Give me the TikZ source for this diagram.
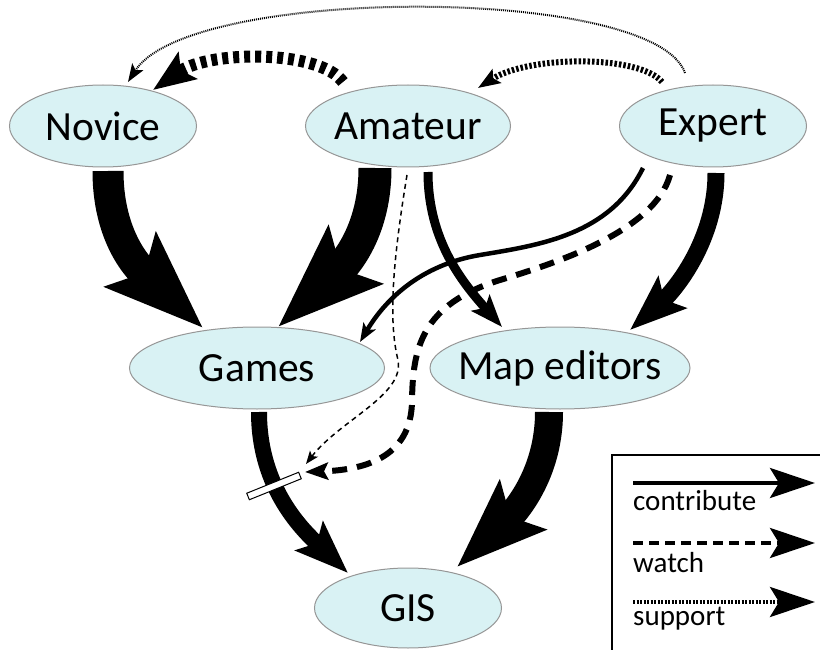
\documentclass[tikz,border=0pt]{standalone}
\usepackage{fontspec}
\setmainfont{Carlito}
\usetikzlibrary{arrows.meta,calc,shapes.geometric}
\definecolor{ecyan}{RGB}{217,242,244}
\definecolor{egray}{RGB}{150,150,150}
\begin{document}
\begin{tikzpicture}[x=1pt,y=-1pt,
  ent/.style={ellipse, draw=egray, line width=1pt, fill=ecyan, inner xsep=-25pt, inner ysep=0pt,
    minimum height=82pt, font=\fontsize{41.5}{48}\selectfont},
  tip/.style={-{Stealth[length=5pt 3, width=4pt 2.2, inset=2pt 0.5]}},
  contrib/.style={tip, line width=#1},
  legtxt/.style={anchor=base west, inner sep=0pt, font=\fontsize{29}{34}\selectfont},
  legarrow/.style={line width=4pt, -{Stealth[length=45pt, width=30pt, inset=9pt]}}]
\useasboundingbox (0,0) rectangle (820,650);

% nodes
\node[ent, minimum width=187pt] (nov) at (103,126) {Novice};
\node[ent, minimum width=205pt] (ama) at (408,126) {Amateur};
\node[ent, minimum width=187pt] (exp) at (713,126) {Expert};
\node[ent, minimum width=255pt] (gam) at (257,368) {Games};
\node[ent, minimum width=260pt] (map) at (560,368) {Map editors};
\node[ent, minimum width=187pt, minimum height=80pt] (gis) at (408,608) {GIS};

% contribute arrows
\draw[contrib=31pt] ($(nov)+(5,45)$) .. controls +(0,79) and +(-51,-48) .. ($(gam)+(-54,-40)$);
\draw[contrib=33pt] ($(ama)+(-33,42)$) .. controls +(0,72) and +(58,-54) .. ($(gam)+(21,-41)$);
\draw[contrib=9pt] ($(ama)+(20,46)$) .. controls +(0,68) and +(-40,-45) .. ($(map)+(-58,-41)$);
\draw[contrib=17pt] ($(exp)+(3,47)$) .. controls +(0,67) and +(45,-40) .. ($(map)+(70,-38)$);
\draw[contrib=4.5pt] ($(exp)+(-70,42)$) .. controls +(-33,67) and (540,245) .. (480,255)
   .. controls (420,265) and +(25,-42) .. ($(gam)+(103,-26)$);
\draw[contrib=16pt] ($(gam)+(2,44)$) .. controls +(0,78) and +(-43,-41) .. ($(gis)+(-60,-35)$);
\draw[contrib=28pt] ($(map)+(-11,44)$) .. controls +(0,68) and +(51,-48) .. ($(gis)+(49,-41)$);

% blocked bar
\node[draw=black, line width=1pt, fill=white, minimum width=56pt, minimum height=7pt, inner sep=0pt, rotate=22] (bar) at (274,486) {};
\coordinate (blkA) at (305,472);
\coordinate (blkB) at (306,464);

% watch arrows
\draw[line width=6pt, dash pattern=on 15pt off 10pt, -{Stealth[length=23pt, width=17pt, inset=4pt]}]
  ($(exp)+(-43,49)$) .. controls (655,230) and (560,262) .. (500,280)
  .. controls (420,305) and (413,350) .. (412,400)
  .. controls (412,460) and (360,470) .. (blkA);
\draw[line width=1.5pt, dash pattern=on 5pt off 4pt, -{Stealth[length=13pt, width=10pt, inset=3pt]}]
  ($(ama)+(-1,49)$) .. controls (393,260) and (388,320) .. (398,360)
  .. controls (405,395) and (340,420) .. (blkB);

% support arrows
\draw[line width=12pt, dash pattern=on 6pt off 5pt, -{Stealth[length=42pt, width=32pt, inset=8pt]}]
  ($(ama)+(-65,-44)$) .. controls +(-23,-32) and +(57,-40) .. ($(nov)+(50,-36)$);
\draw[line width=6pt, dash pattern=on 2.5pt off 2pt, -{Stealth[length=22pt, width=16pt, inset=4pt]}]
  ($(exp)+(-51,-44)$) .. controls +(-22,-27) and +(52,-33) .. ($(ama)+(70,-38)$);
\draw[line width=2pt, dash pattern=on 1pt off 1pt, -{Stealth[length=18pt, width=13pt, inset=4pt]}]
  ($(exp)+(-28,-53)$) .. controls +(-30,-88) and +(62,-97) .. ($(nov)+(25,-44)$);

% legend
\draw[line width=2pt] (612,670) -- (612,455) -- (840,455);
\coordinate (la1) at (633,483); \coordinate (lb1) at (815,483);
\coordinate (la2) at (633,543); \coordinate (lb2) at (815,543);
\coordinate (la3) at (633,602); \coordinate (lb3) at (815,602);
\draw[legarrow] (la1) -- (lb1);
\draw[legarrow, dash pattern=on 10pt off 6pt] (la2) -- (lb2);
\draw[legarrow, dash pattern=on 2pt off 1.5pt] (la3) -- (lb3);
\node[legtxt] (lt1) at (633,510) {contribute};
\node[legtxt] (lt2) at (633,572) {watch};
\node[legtxt] (lt3) at (633,625) {support};
\end{tikzpicture}
\end{document}
